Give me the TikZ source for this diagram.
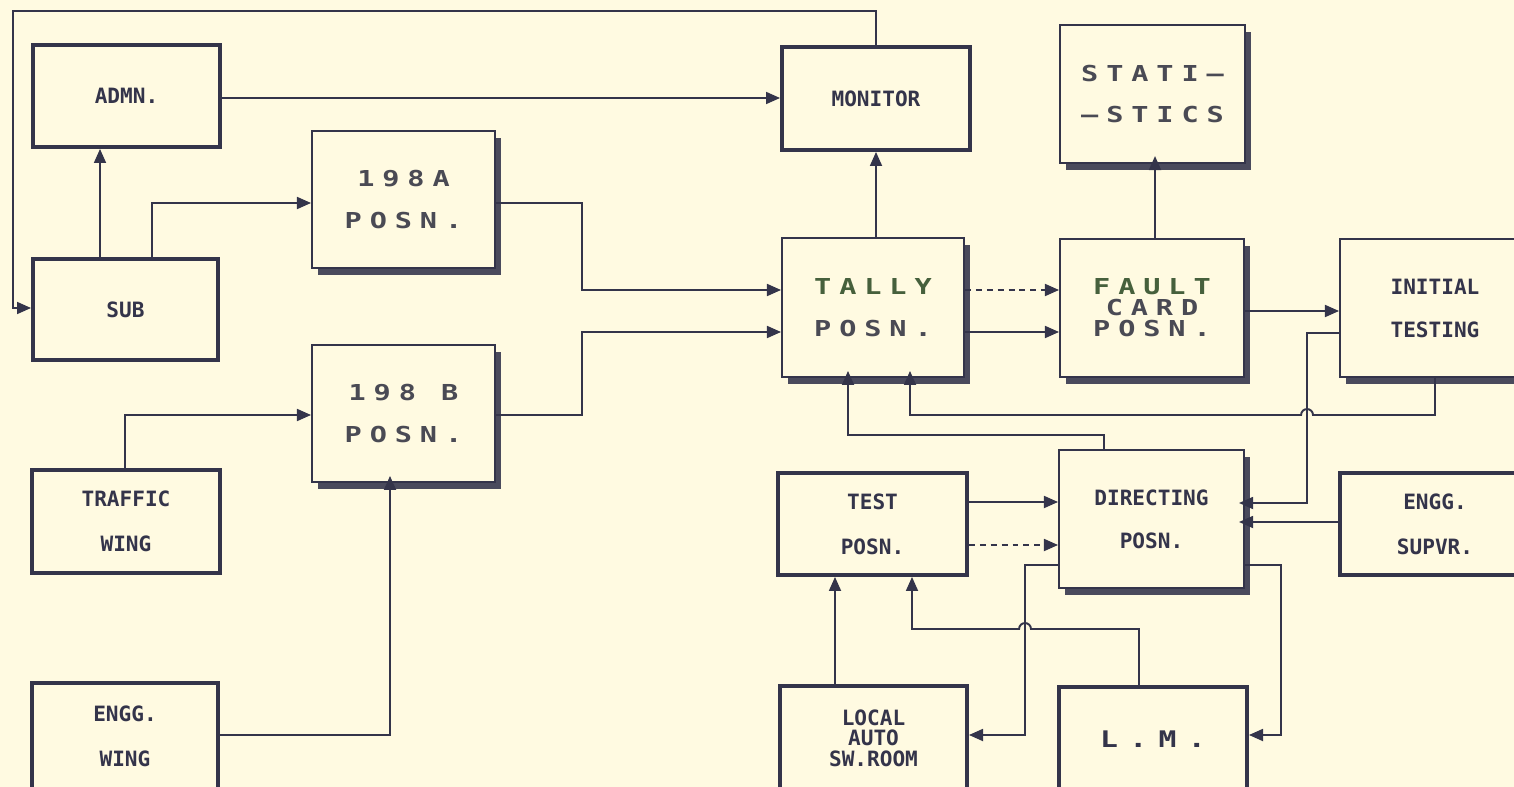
\documentclass[tikz,border=0pt]{standalone}
\usepackage{fontspec}
\usetikzlibrary{arrows.meta,shadows}
\newfontfamily\nfont{DejaVu Sans Mono}
\newfontfamily\wfont[FakeStretch=1.3,LetterSpace=36]{DejaVu Sans Mono}
\newfontfamily\lmfont[FakeStretch=1.3,LetterSpace=50]{DejaVu Sans Mono}
\definecolor{bg}{HTML}{FFFAE1}
\definecolor{ink}{HTML}{34344A}
\definecolor{shd}{HTML}{4A4A5C}
\definecolor{wtxt}{HTML}{4A4A54}
\definecolor{grn}{HTML}{46603C}
\begin{document}
\begin{tikzpicture}[x=0.02cm,y=-0.02cm,
  thickbox/.style={draw=ink, line width=2.2pt, fill=bg, inner sep=0pt, align=center, text=ink,
    font=\nfont\bfseries\fontsize{12}{25.5}\selectfont},
  shbox/.style={draw=ink, line width=1.1pt, fill=bg, inner sep=0pt, align=center, text=wtxt,
    font=\wfont\bfseries\fontsize{12.5}{23.8}\selectfont,
    drop shadow={shadow xshift=3.4pt, shadow yshift=-4pt, fill=shd, opacity=1}},
  nf/.style={font=\nfont\bfseries\fontsize{12}{24.5}\selectfont, text=ink},
  sz/.style 2 args={minimum width=#1*0.02cm, minimum height=#2*0.02cm},
  conn/.style={draw=ink, line width=1.1pt},
  arr/.style={conn, -{Triangle[length=8pt,width=6.8pt]}},
  dsh/.style={arr, dash pattern=on 3.4pt off 2.8pt},
]
\useasboundingbox (0,0) rectangle (1514,787);
\fill[bg] (0,0) rectangle (1514,787);

% nodes
\node[thickbox, sz={187}{102}] (admn) at (126.5,96) {ADMN.};
\node[thickbox, sz={185}{101}] (sub) at (125.5,309.5) {SUB};
\node[shbox, sz={183}{137}] (a198) at (403.5,199.5) {198A\\POSN.};
\node[shbox, sz={183}{137}] (b198) at (403.5,413.5) {198 B\\POSN.};
\node[thickbox, sz={188}{103}] (traffic) at (126,521.5) {TRAFFIC\\WING};
\node[thickbox, sz={186}{106}] (enggw) at (125,736) {ENGG.\\WING};
\node[thickbox, sz={188}{103}] (monitor) at (876,98.5) {MONITOR};
\node[shbox, sz={185}{138}] (stat) at (1152.5,94) {STATI–\\–STICS};
\node[shbox, sz={182}{139}] (tally) at (873,307.5) {\textcolor{grn}{TALLY}\\POSN.};
\node[shbox, sz={184}{138}, font=\wfont\bfseries\fontsize{12.5}{11.9}\selectfont] (fault) at (1152,308) {\textcolor{grn}{FAULT}\\CARD\\POSN.};
\node[shbox, nf, sz={190}{138}] (initial) at (1435,308) {INITIAL\\TESTING};
\node[thickbox, sz={189}{102}] (test) at (872.5,524) {TEST\\POSN.};
\node[shbox, nf, sz={185}{138}] (dir) at (1151.5,519) {DIRECTING\\POSN.};
\node[thickbox, sz={190}{102}] (enggs) at (1435,524) {ENGG.\\SUPVR.};
\node[thickbox, sz={187}{104}, font=\nfont\bfseries\fontsize{12}{11.6}\selectfont] (local) at (873.5,738) {LOCAL\\AUTO\\SW.ROOM};
\node[thickbox, sz={188}{104}, font=\lmfont\bfseries\fontsize{13}{13}\selectfont] (lm) at (1153,739) {L.M.};

% connectors
\draw[arr] (monitor.north) -- (876,11) -- (13,11) |- (sub.west |- 0,308);
\draw[arr] (admn.east |- 0,98) -- (monitor.west |- 0,98);
\draw[arr] (sub.north -| 100,0) -- (admn.south -| 100,0);
\draw[arr] (sub.north -| 152,0) |- (a198.west |- 0,203);
\draw[arr] (a198.east |- 0,203) -| (582,290) -- (tally.west |- 0,290);
\draw[arr] (b198.east |- 0,415) -| (582,332) -- (tally.west |- 0,332);
\draw[arr] (traffic.north -| 125,0) |- (b198.west |- 0,415);
\draw[arr, shorten >=-4pt] (enggw.east |- 0,735) -| (b198.south -| 390,0);
\draw[arr] (tally.north -| 876,0) -- (monitor.south -| 876,0);
\draw[dsh] (tally.east |- 0,290) -- (fault.west |- 0,290);
\draw[arr] (tally.east |- 0,332) -- (fault.west |- 0,332);
\draw[arr, shorten >=-4.5pt] (fault.north -| 1155,0) -- (stat.south -| 1155,0);
\draw[arr] (fault.east |- 0,311) -- (initial.west |- 0,311);
\draw[arr, shorten >=-3.4pt] (initial.west |- 0,333) -| (1307,503) -- (dir.east |- 0,503);
\draw[arr, shorten >=-4pt] (initial.south -| 1435,0) -- (1435,415) -- (1313,415)
  arc[start angle=0,end angle=180,radius=3.4pt] -- (910,415) -- (tally.south -| 910,0);
\draw[arr, shorten >=-4pt] (dir.north -| 1104,0) -- (1104,435) -| (tally.south -| 848,0);
\draw[arr, shorten >=-3.4pt] (enggs.west |- 0,522) -- (dir.east |- 0,522);
\draw[arr] (test.east |- 0,502) -- (dir.west |- 0,502);
\draw[dsh] (test.east |- 0,545) -- (dir.west |- 0,545);
\draw[arr] (dir.west |- 0,565) -| (1025,735) -- (local.east |- 0,735);
\draw[arr] (dir.east |- 0,565) -| (1281,735) -- (lm.east |- 0,735);
\draw[arr] (local.north -| 835,0) -- (test.south -| 835,0);
\draw[arr] (lm.north -| 1139,0) -- (1139,629) -- (1031,629)
  arc[start angle=0,end angle=180,radius=3.4pt] -- (912,629) -- (test.south -| 912,0);
\end{tikzpicture}
\end{document}
